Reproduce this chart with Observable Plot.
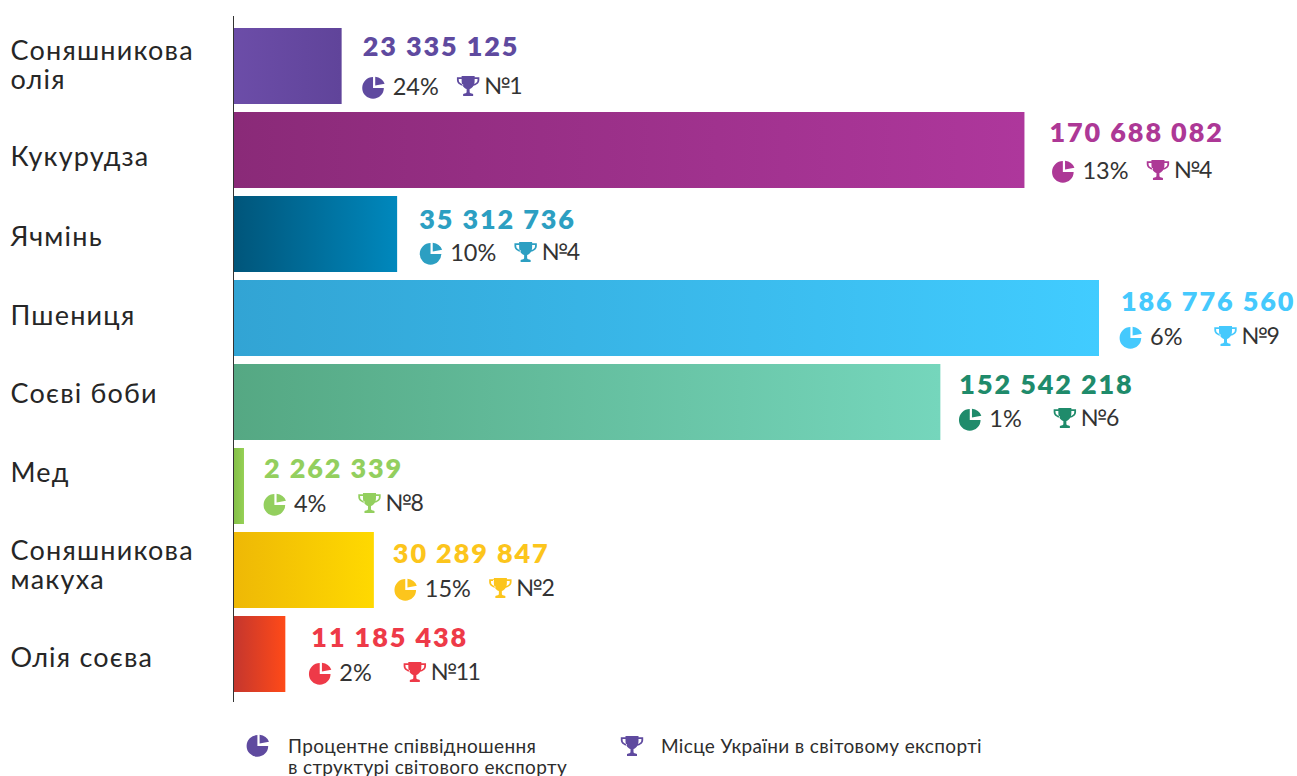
<!DOCTYPE html>
<html lang="uk">
<head>
<meta charset="utf-8">
<script src="https://cdn.jsdelivr.net/npm/d3@7"></script>
<script src="https://cdn.jsdelivr.net/npm/@observablehq/plot@0.6"></script>
<style>
  html, body { margin: 0; padding: 0; background: #fff; overflow: hidden; }
  #chart svg { display: block; }
  #chart g[aria-label="y-axis tick label"] { letter-spacing: 1.2px; }
  #legend { position: relative; height: 46px; font: 19px Lato, "Noto Sans", sans-serif; letter-spacing: 0.35px; color: #2d2d2d; line-height: 21px; }
  #legend svg { position: absolute; overflow: visible; }
  #legend div { position: absolute; white-space: pre; }
</style>
</head>
<body>
<div id="chart"></div>
<div id="legend"></div>
<script>
// Data
const categories = ["Соняшникова олія", "Кукурудза", "Ячмінь", "Пшениця", "Соєві боби", "Мед", "Соняшникова макуха", "Олія соєва"];
const categoryLabels = ["Соняшникова\nолія", "Кукурудза", "Ячмінь", "Пшениця", "Соєві боби", "Мед", "Соняшникова\nмакуха", "Олія соєва"];
const values = [23335125, 170688082, 35312736, 186776560, 152542218, 2262339, 30289847, 11185438];
const shares = ["24%", "13%", "10%", "6%", "1%", "4%", "15%", "2%"];
const ranks = ["№1", "№4", "№4", "№9", "№6", "№8", "№2", "№11"];

// Styling
const labelColors = ["#5f4a9f", "#ad3896", "#2c9fc2", "#45c9fd", "#1f8b6b", "#93cf5e", "#fcc51c", "#ee3a48"];
const gradients = [
  ["#6c4da8", "#60449a"], ["#8a2a78", "#ae379c"], ["#00557a", "#0088bd"], ["#32a4d4", "#41ccff"],
  ["#55a883", "#75d6bc"], ["#84bf48", "#95d055"], ["#eeb806", "#ffd900"], ["#c4362e", "#ff4a18"]
];
// Hand-tuned annotation offsets per row (pixels)
const numberGap = [20.5, 24.5, 21.5, 21.5, 18.5, 19.5, 18.5, 25.5];
const numberDy = [-19, -17, -14, -16, -17, -17, -16, -16];
const metaGap = [21, 28, 23, 21, 19, 20, 21, 24];
const metaDy = [20.5, 20.5, 18.5, 18.5, 16.5, 17.5, 18.5, 18.5];
const categoryDy = [-1, 6.5, 2.5, -2.5, -8.5, -13.5, -5, 3.5];

const rows = categories.map((category, i) => ({
  category, value: values[i], share: shares[i], rank: ranks[i],
  color: labelColors[i], fill: `url(#bar-gradient-${i})`
}));

const fmt = d3.formatLocale({thousands: " ", grouping: [3], decimal: ","}).format(",d");
const FONT = 'Lato, "Noto Sans", sans-serif';

// Render transform: letter-spacing for a text mark
const tracked = (px) => (index, scales, channels, dimensions, context, next) => {
  const g = next(index, scales, channels, dimensions, context);
  g.style.letterSpacing = px;
  return g;
};

// Icon glyphs as custom symbols (designed at r = 10)
const pieSymbol = {
  draw(ctx, size) {
    const k = Math.sqrt(size / Math.PI) / 10;
    const r = 10.8 * k;
    ctx.moveTo(-0.6 * k, 0.9 * k);
    ctx.arc(-0.6 * k, 0.9 * k, r, -Math.PI / 2, 0, true);
    ctx.closePath();
    ctx.moveTo(1.6 * k, -1.6 * k);
    ctx.lineTo(1.6 * k, -10.2 * k);
    ctx.quadraticCurveTo(8.6 * k, -9.4 * k, 11 * k, -3.2 * k);
    ctx.closePath();
  }
};
const trophySymbol = {
  draw(ctx, size) {
    const k = Math.sqrt(size / Math.PI) / 10;
    const M = (x, y) => ctx.moveTo(x * k, y * k);
    const L = (x, y) => ctx.lineTo(x * k, y * k);
    const C = (a, b, c, d, e, f) => ctx.bezierCurveTo(a * k, b * k, c * k, d * k, e * k, f * k);
    M(-6.5, -10); L(6.5, -10); L(6.5, -5);
    C(6.5, 0, 3.5, 2.5, 1.5, 3); L(1.5, 6); C(1.5, 7, 3, 7.5, 5, 8); L(5, 10); L(-5, 10); L(-5, 8);
    C(-3, 7.5, -1.5, 7, -1.5, 6); L(-1.5, 3); C(-3.5, 2.5, -6.5, 0, -6.5, -5); ctx.closePath();
    for (const s of [-1, 1]) {
      M(s * 6.5, -8.8); L(s * 11.2, -8.8); L(s * 11.2, -6);
      C(s * 11.2, -2.5, s * 8, -1, s * 5, 0); L(s * 5, -1.7);
      C(s * 7.5, -2.4, s * 9.4, -3.5, s * 9.4, -6); L(s * 9.4, -7.1); L(s * 6.5, -7.1); ctx.closePath();
    }
  }
};

const gradientDefs = () => {
  const defs = d3.create("svg:defs");
  gradients.forEach(([a, b], i) => {
    const g = defs.append("linearGradient").attr("id", `bar-gradient-${i}`);
    g.append("stop").attr("offset", "0%").attr("stop-color", a);
    g.append("stop").attr("offset", "100%").attr("stop-color", b);
  });
  return defs.node();
};

const rowMarks = rows.flatMap((d, i) => {
  const one = [d];
  const base = metaGap[i];
  const meta = metaDy[i];
  return [
    Plot.axisY([d.category], {
      tickSize: 0, tickPadding: 0, textAnchor: "start", dx: -223, dy: categoryDy[i],
      fontSize: 27, fontFamily: FONT, fill: "#262626", lineHeight: 1.04, label: null,
      tickFormat: () => categoryLabels[i]
    }),
    Plot.text(one, {
      x: "value", y: "category", text: (r) => fmt(r.value), fill: "color", textAnchor: "start",
      dx: numberGap[i], dy: numberDy[i], fontSize: 27, fontWeight: 800, fontFamily: FONT,
      render: tracked("1.9px")
    }),
    Plot.dot(one, {x: "value", y: "category", symbol: pieSymbol, r: 10, fill: "color", stroke: "none", dx: base + 10.5, dy: meta}),
    Plot.text(one, {
      x: "value", y: "category", text: "share", fill: "#333", textAnchor: "start",
      dx: base + 29.5, dy: meta, fontSize: 23.5, fontFamily: FONT
    }),
    Plot.dot(one, {x: "value", y: "category", symbol: trophySymbol, r: 10, fill: "color", stroke: "none", dx: base + 105, dy: meta - 1}),
    Plot.text(one, {
      x: "value", y: "category", text: "rank", fill: "#333", textAnchor: "start",
      dx: base + 121, dy: meta, fontSize: 23, fontFamily: FONT, render: tracked("-1.6px")
    })
  ];
});

const plot = Plot.plot({
  width: 1297,
  height: 730,
  marginTop: 16,
  marginBottom: 28,
  marginLeft: 233,
  marginRight: 198,
  style: {background: "#fff"},
  x: {domain: [0, d3.max(values)], range: [233.5, 1099], axis: null},
  y: {domain: categories, range: [19.6, 700], padding: 0.1, label: null},
  marks: [
    gradientDefs,
    Plot.barX(rows, {x: "value", y: "category", fill: {value: "fill", scale: null}}),
    Plot.ruleX([0], {stroke: "#333", strokeWidth: 1, dx: -0.5}),
    ...rowMarks
  ]
});
document.getElementById("chart").append(plot);

// Legend below the chart
const legend = d3.select("#legend");
const addIcon = (symbol, cx, cy) => {
  legend.append("svg").attr("width", 26).attr("height", 26)
    .style("left", `${cx - 13}px`).style("top", `${cy - 13}px`)
    .append("path").attr("transform", "translate(13,13)")
    .attr("d", d3.symbol(symbol, Math.PI * 100)()).attr("fill", labelColors[0]);
};
addIcon(pieSymbol, 258, 15);
addIcon(trophySymbol, 632, 16);
legend.append("div").style("left", "288px").style("top", "5px").text("Процентне співвідношення\nв структурі світового експорту");
legend.append("div").style("left", "661px").style("top", "5px").text("Місце України в світовому експорті");
</script>
</body>
</html>
